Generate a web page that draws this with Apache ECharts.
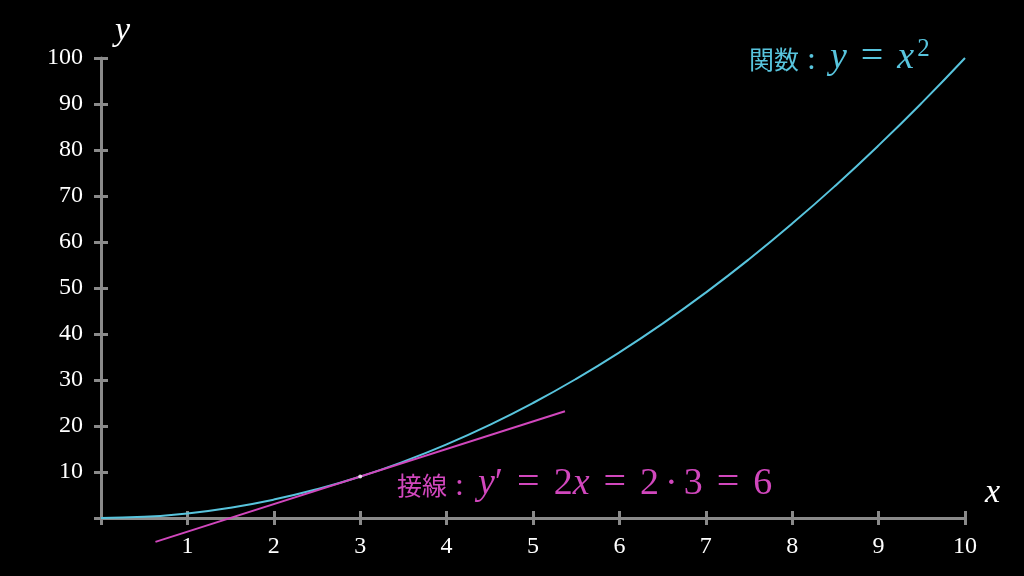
<!DOCTYPE html>
<html>
<head>
<meta charset="utf-8">
<script src="https://cdn.jsdelivr.net/npm/echarts@6/dist/echarts.min.js"></script>
<style>html,body{margin:0;padding:0;background:#000;}#c{width:1024px;height:576px;}</style>
</head>
<body>
<div id="c"></div>
<script>
// Curve points (y = x^2)
const curveX = [0,0.5,1,1.5,2,2.5,3,3.5,4,4.5,5,5.5,6,6.5,7,7.5,8,8.5,9,9.5,10];
const curveY = [0,0.25,1,2.25,4,6.25,9,12.25,16,20.25,25,30.25,36,42.25,49,56.25,64,72.25,81,90.25,100];
// Tangent line endpoints at x = 3
const tangentX = [0.63, 5.37];
const tangentY = [-5.2, 23.2];
// Point of tangency
const pointX = [3];
const pointY = [9];

const GRAY = '#8a8a8a';
const TEAL = '#58C4DD';
const PINK = '#D147BD';
const SERIF = 'Liberation Serif';

const chart = echarts.init(document.getElementById('c'));
const zip = (a, b) => a.map((v, i) => [v, b[i]]);

const baseX = {
  type: 'value', min: 0, max: 10, interval: 1, gridIndex: 0, position: 'bottom',
  splitLine: {show: false}
};
const baseY = {
  type: 'value', min: 0, max: 100, interval: 10, gridIndex: 0, position: 'left',
  splitLine: {show: false}
};

function mathRich(color) {
  return {
    cjk: {fontFamily: 'Noto Sans CJK JP', fontSize: 25, fill: color, verticalAlign: 'bottom', padding: [0,0,5,0]},
    col: {fontFamily: SERIF, fontSize: 32, fill: color, verticalAlign: 'bottom', padding: [0,14,0,8]},
    it: {fontFamily: SERIF, fontStyle: 'italic', fontSize: 38, fill: color, verticalAlign: 'bottom'},
    rm: {fontFamily: SERIF, fontSize: 38, fill: color, verticalAlign: 'bottom'},
    eq: {fontFamily: SERIF, fontSize: 40, fill: color, verticalAlign: 'bottom', padding: [0,14,0,14]},
    dot: {fontFamily: SERIF, fontSize: 38, fill: color, verticalAlign: 'bottom', padding: [0,6,0,6]},
    sup: {fontFamily: SERIF, fontSize: 25, fill: color, verticalAlign: 'top', padding: [0,0,0,3]}
  };
}

chart.setOption({
  backgroundColor: '#000',
  animation: false,
  grid: {left: 101, right: 59, top: 58, bottom: 58},
  xAxis: [
    Object.assign({}, baseX, {
      axisLine: {show: true, onZero: false, lineStyle: {color: GRAY, width: 3}},
      axisTick: {show: true, inside: false, length: 7, lineStyle: {color: GRAY, width: 3}},
      axisLabel: {show: true, margin: 17, color: '#fff', fontFamily: SERIF, fontSize: 24,
        formatter: v => v === 0 ? '' : String(v)}
    }),
    Object.assign({}, baseX, {
      axisLine: {show: false},
      axisTick: {show: true, inside: true, length: 7, lineStyle: {color: GRAY, width: 3}},
      axisLabel: {show: false}
    })
  ],
  yAxis: [
    Object.assign({}, baseY, {
      axisLine: {show: true, onZero: false, lineStyle: {color: GRAY, width: 3}},
      axisTick: {show: true, inside: false, length: 7, lineStyle: {color: GRAY, width: 3}},
      axisLabel: {show: true, margin: 18, color: '#fff', fontFamily: SERIF, fontSize: 24,
        formatter: v => v === 0 ? '' : String(v)}
    }),
    Object.assign({}, baseY, {
      axisLine: {show: false},
      axisTick: {show: true, inside: true, length: 7, lineStyle: {color: GRAY, width: 3}},
      axisLabel: {show: false}
    })
  ],
  series: [
    {
      type: 'line', xAxisIndex: 0, yAxisIndex: 0, data: zip(curveX, curveY),
      smooth: true, showSymbol: false, clip: false,
      lineStyle: {color: TEAL, width: 2}, z: 3
    },
    {
      type: 'line', xAxisIndex: 0, yAxisIndex: 0, data: zip(tangentX, tangentY),
      showSymbol: false, clip: false,
      lineStyle: {color: PINK, width: 2}, z: 4
    },
    {
      type: 'scatter', xAxisIndex: 0, yAxisIndex: 0, data: zip(pointX, pointY),
      symbolSize: 4, itemStyle: {color: '#fff'}, z: 5
    }
  ],
  graphic: [
    {type: 'text', left: 115, top: 14, style: {text: 'y', fill: '#fff', font: 'italic 34px "Liberation Serif"'}},
    {type: 'text', left: 985, top: 476, style: {text: 'x', fill: '#fff', font: 'italic 34px "Liberation Serif"'}},
    {
      type: 'text', left: 749, top: 37,
      style: {
        text: '{cjk|関数}{col|:}{it|y}{eq|=}{it|x}{sup|2}',
        fill: TEAL,
        rich: mathRich(TEAL)
      }
    },
    {
      type: 'text', left: 397, top: 463,
      style: {
        text: '{cjk|接線}{col|:}{it|y}{rm|′}{eq|=}{rm|2}{it|x}{eq|=}{rm|2}{dot|·}{rm|3}{eq|=}{rm|6}',
        fill: PINK,
        rich: mathRich(PINK)
      }
    }
  ]
});
</script>
</body>
</html>
